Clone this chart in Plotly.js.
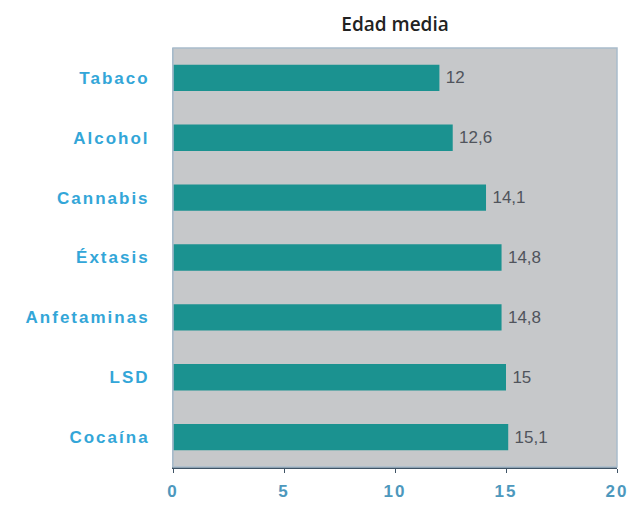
<!DOCTYPE html>
<html><head><meta charset="utf-8">
<script src="https://cdn.plot.ly/plotly-3.0.1.min.js"></script>
<style>
body{margin:0;background:#fff}#c{width:629px;height:507px}
.ytick text{letter-spacing:2px}
.xtick text{letter-spacing:2px}
.textpoint text{letter-spacing:1.8px}
</style>
</head><body><div id="c"></div>
<script>
const categories = ["Tabaco","Alcohol","Cannabis","Éxtasis","Anfetaminas","LSD","Cocaína"];
const values = [12, 12.6, 14.1, 14.8, 14.8, 15, 15.1];
const valueLabels = ["12","12,6","14,1","14,8","14,8","15","15,1"];
const xTicks = [0,5,10,15,20];

Plotly.newPlot("c", [{
  type: "bar", orientation: "h",
  y: categories, x: values,
  text: valueLabels.map(s => "\u2009" + s), textposition: "outside",
  textfont: {family: "Liberation Sans, Arial", size: 17, color: "#50545c"},
  marker: {color: "#1b9290"},
  cliponaxis: false, hoverinfo: "none"
}], {
  width: 629, height: 507,
  margin: {l: 173, r: 12, t: 48, b: 40},
  paper_bgcolor: "#ffffff", plot_bgcolor: "#c6c8ca",
  bargap: 0.56,
  title: {text: "Edad media", x: 0.628, xanchor: "center", y: 0.952, yanchor: "middle",
          font: {family: "Open Sans, Lato, sans-serif", size: 19, weight: 600, color: "#222"}},
  xaxis: {range: [0, 20], tickvals: xTicks, ticktext: xTicks.map(String),
          showgrid: false, zeroline: false, showline: true, linecolor: "#3f5466", linewidth: 1.5,
          ticks: "outside", ticklen: 4, tickcolor: "#3f5466", ticklabelstandoff: 4,
          tickfont: {family: "Liberation Sans, Arial", size: 17, weight: "bold", color: "#4d98bd"}},
  yaxis: {autorange: "reversed", showgrid: false, zeroline: false, showline: true, linecolor: "#9fb4c4",
          ticks: "", ticklabelstandoff: 19,
          tickfont: {family: "Liberation Sans, Arial", size: 17, weight: "bold", color: "#33a6d8"}},
  shapes: [{type: "rect", xref: "paper", yref: "paper", x0: 0, x1: 1, y0: 0, y1: 1,
            line: {color: "#a9bccb", width: 1.5}}],
  showlegend: false
}, {displayModeBar: false, staticPlot: true});
</script></body></html>
